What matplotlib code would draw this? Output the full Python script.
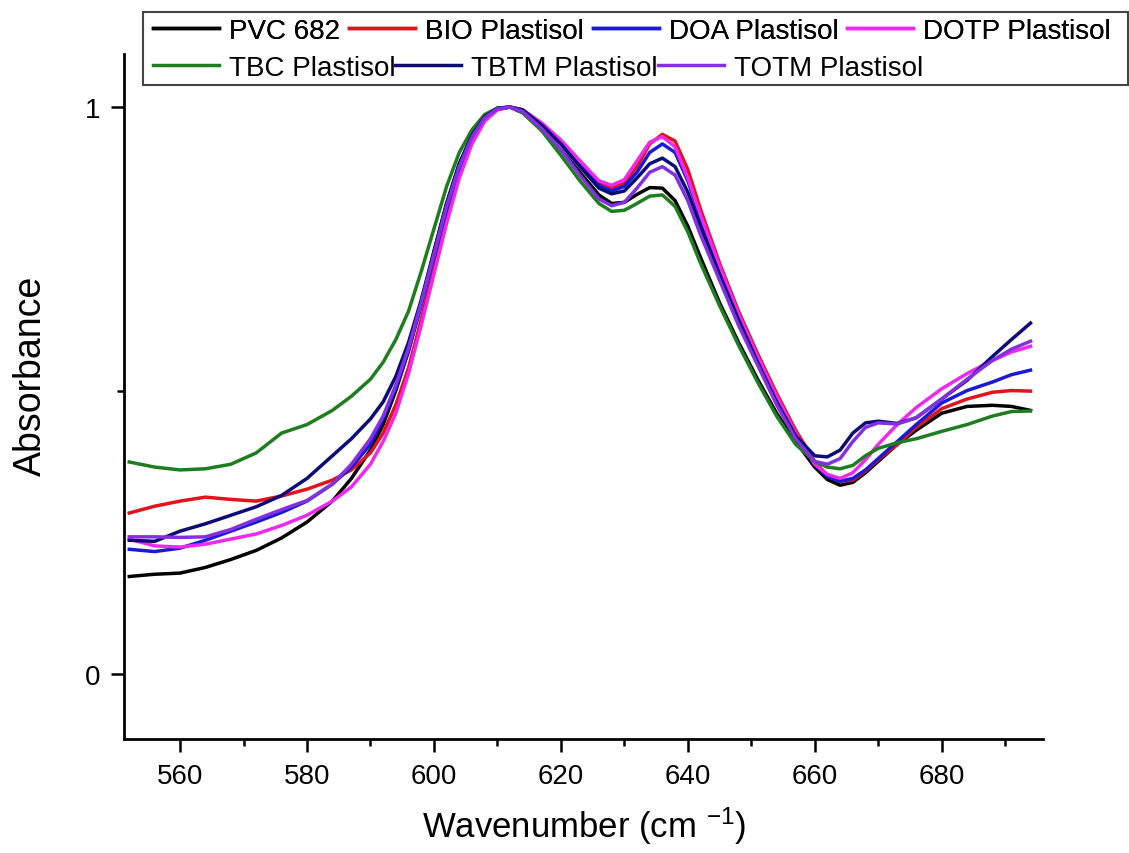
import matplotlib
matplotlib.use('Agg')
import matplotlib.pyplot as plt
from matplotlib.patches import Rectangle
from matplotlib.ticker import MultipleLocator, FixedLocator

plt.rcParams['font.family'] = ['Liberation Sans', 'DejaVu Sans']
plt.rcParams['mathtext.default'] = 'regular'

# wavenumber grid (cm-1) and absorbance
wn = [552, 556, 560, 564, 568, 572, 576, 580, 584, 587, 590, 592, 594, 596,
      598, 600, 602, 604, 606, 608, 610, 612, 614, 617, 620, 623, 626, 628,
      630, 632, 634, 636, 638, 640, 642, 645, 648, 651, 654, 657, 660, 662,
      664, 666, 668, 670, 673, 676, 680, 684, 688, 691, 694]

pvc = [0.172, 0.176, 0.178, 0.188, 0.202, 0.218, 0.240, 0.268, 0.305, 0.345,
       0.395, 0.440, 0.500, 0.570, 0.655, 0.745, 0.830, 0.900, 0.950, 0.983,
       0.998, 1.000, 0.990, 0.960, 0.925, 0.885, 0.845, 0.830, 0.832, 0.846,
       0.858, 0.857, 0.835, 0.790, 0.735, 0.655, 0.585, 0.520, 0.460, 0.410,
       0.365, 0.343, 0.333, 0.338, 0.355, 0.375, 0.405, 0.430, 0.460, 0.472,
       0.474, 0.472, 0.465]
bio = [0.284, 0.296, 0.305, 0.312, 0.308, 0.305, 0.314, 0.326, 0.342, 0.360,
       0.390, 0.425, 0.475, 0.540, 0.625, 0.715, 0.805, 0.885, 0.940, 0.978,
       0.996, 1.000, 0.993, 0.970, 0.940, 0.905, 0.868, 0.858, 0.865, 0.895,
       0.935, 0.952, 0.940, 0.890, 0.820, 0.725, 0.640, 0.565, 0.495, 0.430,
       0.375, 0.350, 0.340, 0.342, 0.358, 0.378, 0.405, 0.435, 0.468, 0.485,
       0.497, 0.500, 0.499]
doa = [0.220, 0.216, 0.222, 0.236, 0.252, 0.268, 0.285, 0.305, 0.335, 0.365,
       0.405, 0.450, 0.505, 0.570, 0.650, 0.735, 0.820, 0.890, 0.945, 0.980,
       0.997, 1.000, 0.995, 0.970, 0.940, 0.900, 0.862, 0.852, 0.860, 0.885,
       0.920, 0.935, 0.920, 0.870, 0.805, 0.715, 0.630, 0.555, 0.485, 0.420,
       0.370, 0.348, 0.340, 0.345, 0.360, 0.380, 0.410, 0.440, 0.478, 0.500,
       0.515, 0.528, 0.536]
dotp = [0.238, 0.226, 0.224, 0.229, 0.238, 0.247, 0.262, 0.280, 0.305, 0.330,
        0.370, 0.410, 0.460, 0.530, 0.615, 0.705, 0.795, 0.875, 0.935, 0.975,
        0.995, 1.000, 0.995, 0.972, 0.942, 0.905, 0.870, 0.862, 0.872, 0.905,
        0.938, 0.948, 0.930, 0.875, 0.810, 0.720, 0.635, 0.560, 0.490, 0.425,
        0.370, 0.352, 0.345, 0.355, 0.378, 0.405, 0.440, 0.470, 0.503, 0.530,
        0.553, 0.568, 0.578]
tbc = [0.374, 0.365, 0.360, 0.362, 0.370, 0.390, 0.425, 0.440, 0.465, 0.490,
       0.520, 0.550, 0.590, 0.640, 0.710, 0.785, 0.860, 0.920, 0.960, 0.987,
       0.998, 1.000, 0.990, 0.958, 0.915, 0.870, 0.830, 0.816, 0.818, 0.830,
       0.843, 0.845, 0.825, 0.780, 0.725, 0.650, 0.580, 0.515, 0.455, 0.405,
       0.375, 0.365, 0.362, 0.368, 0.385, 0.398, 0.408, 0.415, 0.428, 0.440,
       0.455, 0.463, 0.464]
tbtm = [0.236, 0.234, 0.252, 0.265, 0.280, 0.295, 0.315, 0.345, 0.385, 0.415,
        0.450, 0.480, 0.525, 0.585, 0.660, 0.745, 0.830, 0.900, 0.950, 0.983,
        0.998, 1.000, 0.995, 0.968, 0.935, 0.895, 0.857, 0.847, 0.852, 0.875,
        0.900, 0.910, 0.895, 0.850, 0.790, 0.705, 0.625, 0.550, 0.480, 0.420,
        0.385, 0.383, 0.395, 0.425, 0.443, 0.446, 0.442, 0.452, 0.485, 0.518,
        0.560, 0.590, 0.619]
totm = [0.242, 0.242, 0.241, 0.242, 0.255, 0.273, 0.290, 0.306, 0.335, 0.370,
        0.415, 0.455, 0.510, 0.575, 0.655, 0.740, 0.825, 0.895, 0.947, 0.981,
        0.997, 1.000, 0.992, 0.962, 0.925, 0.880, 0.838, 0.826, 0.832, 0.857,
        0.885, 0.895, 0.880, 0.835, 0.775, 0.695, 0.615, 0.545, 0.475, 0.415,
        0.375, 0.370, 0.380, 0.410, 0.435, 0.443, 0.441, 0.452, 0.485, 0.520,
        0.553, 0.573, 0.587]

names = ['PVC 682', 'BIO Plastisol', 'DOA Plastisol', 'DOTP Plastisol',
         'TBC Plastisol', 'TBTM Plastisol', 'TOTM Plastisol']
series = [pvc, bio, doa, dotp, tbc, tbtm, totm]
colors = ['#000000', '#e0141b', '#1a1ad6', '#ee28ee', '#1e7d1e', '#0c0c78', '#8530e0']

fig = plt.figure(figsize=(11.29, 8.54), dpi=100)
ax = fig.add_axes([0.110, 0.1335, 0.814, 0.802])

lines = []
for y, c, n in zip(series, colors, names):
    l, = ax.plot(wn, y, color=c, lw=2.5, label=n)
    lines.append(l)

ax.set_xlim(551.2, 696)
ax.set_ylim(-0.1146, 1.0935)
ax.xaxis.set_major_locator(MultipleLocator(20))
ax.xaxis.set_minor_locator(MultipleLocator(10))
ax.yaxis.set_major_locator(FixedLocator([0, 1]))
ax.yaxis.set_minor_locator(FixedLocator([0.5]))
ax.set_yticklabels(['0', '1'])

for s in ['top', 'right']:
    ax.spines[s].set_visible(False)
for s in ['left', 'bottom']:
    ax.spines[s].set_linewidth(2)
ax.tick_params(which='major', direction='out', length=9.5, width=1.8,
               labelsize=20, pad=8)
ax.tick_params(which='minor', direction='out', length=5, width=1.8)

ax.set_xlabel('Wavenumber (cm $^{-1}$)', fontsize=25, labelpad=11)
fig.text(0.027, 0.5595, 'Absorbance', rotation=90, fontsize=27,
         ha='center', va='center')

# legend box: two rows that flow like the original
opts = dict(loc='upper left', frameon=False, fontsize=20, handlelength=2.37,
            handletextpad=0.36, borderpad=0.1, borderaxespad=0)
row1 = fig.legend(lines[:4], names[:4], ncol=4, columnspacing=0.33,
                  bbox_to_anchor=(0.1329, 0.981), **opts)
row2 = fig.legend(lines[4:], names[4:], ncol=3, columnspacing=0.0,
                  bbox_to_anchor=(0.1329, 0.938), **opts)
fig.add_artist(row1)
fig.patches.append(Rectangle((0.1267, 0.8993), 0.8725, 0.0855,
                             transform=fig.transFigure, fill=False,
                             edgecolor='#444444', lw=1.5))

fig.savefig('out.png', dpi=100)
